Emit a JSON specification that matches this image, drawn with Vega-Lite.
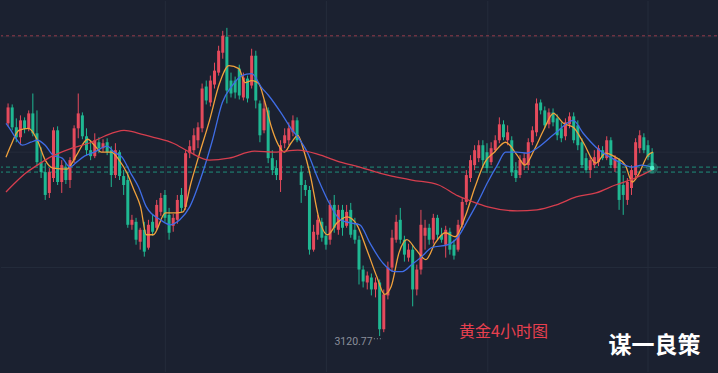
{
  "$schema": "https://vega.github.io/schema/vega-lite/v6.json",
  "width": 718,
  "height": 373,
  "autosize": {"type": "fit", "contains": "padding"},
  "padding": 0,
  "background": "#1b2130",
  "config": {"view": {"stroke": null}},
  "datasets": {
    "candles": [
      {"i":0,"o":3377.4,"c":3396.6,"h":3401.4,"l":3373.8},
      {"i":1,"o":3396.6,"c":3372.6,"h":3400.2,"l":3369},
      {"i":2,"o":3372.6,"c":3360.6,"h":3383.4,"l":3354.6},
      {"i":3,"o":3360.6,"c":3381,"h":3387,"l":3351},
      {"i":4,"o":3381,"c":3371.4,"h":3384.6,"l":3365.4},
      {"i":5,"o":3371.4,"c":3389.4,"h":3393,"l":3367.8},
      {"i":6,"o":3389.4,"c":3365.4,"h":3413.4,"l":3361.8},
      {"i":7,"o":3365.4,"c":3330.6,"h":3393,"l":3327},
      {"i":8,"o":3330.6,"c":3318.6,"h":3348.6,"l":3311.4},
      {"i":9,"o":3318.6,"c":3291,"h":3329.4,"l":3285},
      {"i":10,"o":3293.4,"c":3318.6,"h":3323.4,"l":3287.4},
      {"i":11,"o":3311.4,"c":3369,"h":3372.6,"l":3306.6},
      {"i":12,"o":3369,"c":3306.6,"h":3373.8,"l":3303},
      {"i":13,"o":3306.6,"c":3327,"h":3333,"l":3293.4},
      {"i":14,"o":3324.6,"c":3309,"h":3329.4,"l":3304.2},
      {"i":15,"o":3309,"c":3333,"h":3336.6,"l":3299.4},
      {"i":16,"o":3333,"c":3371.4,"h":3375,"l":3329.4},
      {"i":17,"o":3371.4,"c":3389.4,"h":3413.4,"l":3359.4},
      {"i":18,"o":3387,"c":3361.8,"h":3390.6,"l":3358.2},
      {"i":19,"o":3361.8,"c":3345,"h":3371.4,"l":3339},
      {"i":20,"o":3345,"c":3337.8,"h":3357,"l":3333},
      {"i":21,"o":3337.8,"c":3357,"h":3365.4,"l":3335.4},
      {"i":22,"o":3354.6,"c":3347.4,"h":3360.6,"l":3341.4},
      {"i":23,"o":3347.4,"c":3353.4,"h":3358.2,"l":3342.6},
      {"i":24,"o":3354.6,"c":3342.6,"h":3359.4,"l":3339},
      {"i":25,"o":3345,"c":3315,"h":3349.8,"l":3300.6},
      {"i":26,"o":3315,"c":3345,"h":3353.4,"l":3311.4},
      {"i":27,"o":3342.6,"c":3313.8,"h":3345,"l":3309},
      {"i":28,"o":3313.8,"c":3303,"h":3321,"l":3291},
      {"i":29,"o":3309,"c":3255,"h":3318.6,"l":3251.4},
      {"i":30,"o":3255,"c":3261,"h":3267,"l":3249},
      {"i":31,"o":3258.6,"c":3237,"h":3263.4,"l":3231},
      {"i":32,"o":3234.6,"c":3249,"h":3251.4,"l":3225},
      {"i":33,"o":3249,"c":3222.6,"h":3258.6,"l":3216.6},
      {"i":34,"o":3227.4,"c":3255,"h":3261,"l":3225},
      {"i":35,"o":3258.6,"c":3246.6,"h":3267,"l":3241.8},
      {"i":36,"o":3251.4,"c":3279,"h":3285,"l":3249},
      {"i":37,"o":3270.6,"c":3287.4,"h":3293.4,"l":3265.8},
      {"i":38,"o":3291,"c":3263.4,"h":3297,"l":3258.6},
      {"i":39,"o":3267,"c":3245.4,"h":3275.4,"l":3237},
      {"i":40,"o":3253.8,"c":3263.4,"h":3268.2,"l":3246.6},
      {"i":41,"o":3261,"c":3285,"h":3291,"l":3256.2},
      {"i":42,"o":3291,"c":3275.4,"h":3299.4,"l":3270.6},
      {"i":43,"o":3276.6,"c":3341.4,"h":3345,"l":3273},
      {"i":44,"o":3341.4,"c":3349.8,"h":3357,"l":3335.4},
      {"i":45,"o":3345,"c":3363,"h":3371.4,"l":3339},
      {"i":46,"o":3357,"c":3372.6,"h":3378.6,"l":3347.4},
      {"i":47,"o":3371.4,"c":3419.4,"h":3425.4,"l":3366.6},
      {"i":48,"o":3421.8,"c":3405,"h":3429,"l":3400.2},
      {"i":49,"o":3402.6,"c":3429,"h":3435,"l":3397.8},
      {"i":50,"o":3424.2,"c":3441,"h":3450.6,"l":3419.4},
      {"i":51,"o":3438.6,"c":3465,"h":3471,"l":3435},
      {"i":52,"o":3462.6,"c":3483,"h":3489,"l":3455.4},
      {"i":53,"o":3481.8,"c":3417,"h":3492.6,"l":3401.4},
      {"i":54,"o":3429,"c":3413.4,"h":3438.6,"l":3408.6},
      {"i":55,"o":3429,"c":3414.6,"h":3433.8,"l":3407.4},
      {"i":56,"o":3443.4,"c":3411,"h":3448.2,"l":3406.2},
      {"i":57,"o":3408.6,"c":3432.6,"h":3438.6,"l":3405},
      {"i":58,"o":3431.4,"c":3407.4,"h":3435,"l":3402.6},
      {"i":59,"o":3423,"c":3459,"h":3467.4,"l":3419.4},
      {"i":60,"o":3459,"c":3405,"h":3465,"l":3395.4},
      {"i":61,"o":3401.4,"c":3363,"h":3405,"l":3354.6},
      {"i":62,"o":3369,"c":3395.4,"h":3405,"l":3365.4},
      {"i":63,"o":3393,"c":3335.4,"h":3396.6,"l":3329.4},
      {"i":64,"o":3335.4,"c":3321,"h":3345,"l":3315},
      {"i":65,"o":3323.4,"c":3315,"h":3333,"l":3309},
      {"i":66,"o":3309,"c":3351,"h":3357,"l":3294.6},
      {"i":67,"o":3353.4,"c":3363,"h":3371.4,"l":3347.4},
      {"i":68,"o":3357,"c":3371.4,"h":3378.6,"l":3351},
      {"i":69,"o":3366.6,"c":3381,"h":3387,"l":3361.8},
      {"i":70,"o":3381,"c":3357,"h":3384.6,"l":3354.6},
      {"i":71,"o":3318.6,"c":3303,"h":3327,"l":3281.4},
      {"i":72,"o":3303,"c":3297,"h":3309,"l":3289.8},
      {"i":73,"o":3297,"c":3225,"h":3301.8,"l":3219},
      {"i":74,"o":3225,"c":3246.6,"h":3255,"l":3222.6},
      {"i":75,"o":3243,"c":3261,"h":3267,"l":3237},
      {"i":76,"o":3258.6,"c":3239.4,"h":3263.4,"l":3234.6},
      {"i":77,"o":3241.8,"c":3231,"h":3253.8,"l":3225},
      {"i":78,"o":3237,"c":3279,"h":3285,"l":3231},
      {"i":79,"o":3279,"c":3251.4,"h":3291,"l":3245.4},
      {"i":80,"o":3249,"c":3273,"h":3279,"l":3243},
      {"i":81,"o":3273,"c":3251.4,"h":3279,"l":3241.8},
      {"i":82,"o":3253.8,"c":3270.6,"h":3279,"l":3251.4},
      {"i":83,"o":3273,"c":3243,"h":3281.4,"l":3239.4},
      {"i":84,"o":3249,"c":3237,"h":3263.4,"l":3232.2},
      {"i":85,"o":3237,"c":3201,"h":3241.8,"l":3183},
      {"i":86,"o":3201,"c":3186.6,"h":3205.8,"l":3179.4},
      {"i":87,"o":3185.4,"c":3193.8,"h":3198.6,"l":3177},
      {"i":88,"o":3191.4,"c":3177,"h":3196.2,"l":3169.8},
      {"i":89,"o":3177,"c":3185.4,"h":3191.4,"l":3167.4},
      {"i":90,"o":3185.4,"c":3129,"h":3189,"l":3120.77},
      {"i":91,"o":3129,"c":3171,"h":3177,"l":3125.4},
      {"i":92,"o":3169.8,"c":3203.4,"h":3210.6,"l":3165},
      {"i":93,"o":3203.4,"c":3239.4,"h":3249,"l":3198.6},
      {"i":94,"o":3237,"c":3258.6,"h":3267,"l":3233.4},
      {"i":95,"o":3261,"c":3237,"h":3275.4,"l":3232.2},
      {"i":96,"o":3237,"c":3219,"h":3241.8,"l":3210.6},
      {"i":97,"o":3215.4,"c":3225,"h":3232.2,"l":3210.6},
      {"i":98,"o":3225,"c":3177,"h":3231,"l":3156.6},
      {"i":99,"o":3177,"c":3201,"h":3207,"l":3169.8},
      {"i":100,"o":3201,"c":3255,"h":3273,"l":3195},
      {"i":101,"o":3241.8,"c":3251.4,"h":3261,"l":3225},
      {"i":102,"o":3251.4,"c":3237,"h":3256.2,"l":3231},
      {"i":103,"o":3237,"c":3263.4,"h":3268.2,"l":3232.2},
      {"i":104,"o":3263.4,"c":3243,"h":3267,"l":3237},
      {"i":105,"o":3243,"c":3237,"h":3251.4,"l":3233.4},
      {"i":106,"o":3231,"c":3249,"h":3253.8,"l":3215.4},
      {"i":107,"o":3246.6,"c":3225,"h":3251.4,"l":3219},
      {"i":108,"o":3231,"c":3217.8,"h":3237,"l":3213},
      {"i":109,"o":3225,"c":3255,"h":3261,"l":3222.6},
      {"i":110,"o":3255,"c":3282.6,"h":3287.4,"l":3251.4},
      {"i":111,"o":3282.6,"c":3315,"h":3321,"l":3279},
      {"i":112,"o":3311.4,"c":3333,"h":3339,"l":3306.6},
      {"i":113,"o":3327,"c":3345,"h":3351,"l":3321},
      {"i":114,"o":3335.4,"c":3351,"h":3357,"l":3330.6},
      {"i":115,"o":3351,"c":3333,"h":3357,"l":3323.4},
      {"i":116,"o":3342.6,"c":3323.4,"h":3353.4,"l":3317.4},
      {"i":117,"o":3330.6,"c":3347.4,"h":3354.6,"l":3327},
      {"i":118,"o":3345,"c":3357,"h":3363,"l":3342.6},
      {"i":119,"o":3357,"c":3376.2,"h":3384.6,"l":3353.4},
      {"i":120,"o":3376.2,"c":3360.6,"h":3381,"l":3357},
      {"i":121,"o":3357,"c":3366.6,"h":3375,"l":3351},
      {"i":122,"o":3357,"c":3318.6,"h":3361.8,"l":3313.8},
      {"i":123,"o":3321,"c":3311.4,"h":3330.6,"l":3306.6},
      {"i":124,"o":3315,"c":3333,"h":3339,"l":3311.4},
      {"i":125,"o":3327,"c":3335.4,"h":3341.4,"l":3321},
      {"i":126,"o":3327,"c":3354.6,"h":3359.4,"l":3321},
      {"i":127,"o":3354.6,"c":3369,"h":3373.8,"l":3351},
      {"i":128,"o":3366.6,"c":3401.4,"h":3407.4,"l":3361.8},
      {"i":129,"o":3402.6,"c":3393,"h":3406.2,"l":3388.2},
      {"i":130,"o":3393,"c":3375,"h":3397.8,"l":3371.4},
      {"i":131,"o":3376.2,"c":3390.6,"h":3395.4,"l":3371.4},
      {"i":132,"o":3390.6,"c":3378.6,"h":3395.4,"l":3373.8},
      {"i":133,"o":3383.4,"c":3363,"h":3388.2,"l":3357},
      {"i":134,"o":3371.4,"c":3359.4,"h":3378.6,"l":3354.6},
      {"i":135,"o":3361.8,"c":3378.6,"h":3383.4,"l":3357},
      {"i":136,"o":3376.2,"c":3385.8,"h":3390.6,"l":3371.4},
      {"i":137,"o":3385.8,"c":3357,"h":3390.6,"l":3353.4},
      {"i":138,"o":3375,"c":3351,"h":3381,"l":3345},
      {"i":139,"o":3354.6,"c":3327,"h":3359.4,"l":3323.4},
      {"i":140,"o":3335.4,"c":3321,"h":3341.4,"l":3317.4},
      {"i":141,"o":3321,"c":3333,"h":3337.8,"l":3311.4},
      {"i":142,"o":3327,"c":3336.6,"h":3345,"l":3323.4},
      {"i":143,"o":3330.6,"c":3347.4,"h":3351,"l":3325.8},
      {"i":144,"o":3345,"c":3335.4,"h":3349.8,"l":3333},
      {"i":145,"o":3335.4,"c":3357,"h":3361.8,"l":3333},
      {"i":146,"o":3357,"c":3327,"h":3360.6,"l":3323.4},
      {"i":147,"o":3323.4,"c":3335.4,"h":3339,"l":3318.6},
      {"i":148,"o":3333,"c":3285,"h":3335.4,"l":3273},
      {"i":149,"o":3303,"c":3291,"h":3315,"l":3267},
      {"i":150,"o":3285,"c":3306.6,"h":3311.4,"l":3279},
      {"i":151,"o":3299.4,"c":3321,"h":3327,"l":3291},
      {"i":152,"o":3315,"c":3354.6,"h":3359.4,"l":3309},
      {"i":153,"o":3347.4,"c":3363,"h":3369,"l":3341.4},
      {"i":154,"o":3360.6,"c":3345,"h":3365.4,"l":3341.4},
      {"i":155,"o":3351,"c":3336.6,"h":3357,"l":3333},
      {"i":156,"o":3342.6,"c":3323.4,"h":3347.4,"l":3321}
    ],
    "ma": [
      {"m":"MA5","i":-0.5,"p":3336.6},{"m":"MA5","i":0.7,"p":3351},{"m":"MA5","i":2.6,"p":3369},{"m":"MA5","i":5.0,"p":3371.4},
      {"m":"MA5","i":7.1,"p":3357},{"m":"MA5","i":9.0,"p":3333},{"m":"MA5","i":10.9,"p":3323.4},{"m":"MA5","i":14.3,"p":3322.2},
      {"m":"MA5","i":15.0,"p":3325.8},{"m":"MA5","i":16.6,"p":3339},{"m":"MA5","i":19.3,"p":3358.2},{"m":"MA5","i":20.9,"p":3351},
      {"m":"MA5","i":22.6,"p":3342.6},{"m":"MA5","i":25.0,"p":3342.6},{"m":"MA5","i":26.9,"p":3333},{"m":"MA5","i":28.8,"p":3317.4},
      {"m":"MA5","i":30.5,"p":3297},{"m":"MA5","i":32.1,"p":3276.6},{"m":"MA5","i":33.5,"p":3243},{"m":"MA5","i":35.2,"p":3243},
      {"m":"MA5","i":38.1,"p":3269.4},{"m":"MA5","i":40.7,"p":3269.4},{"m":"MA5","i":42.4,"p":3270.6},{"m":"MA5","i":44.3,"p":3305.4},
      {"m":"MA5","i":46.4,"p":3341.4},{"m":"MA5","i":48.8,"p":3381},{"m":"MA5","i":51.2,"p":3425.4},{"m":"MA5","i":53.5,"p":3447},
      {"m":"MA5","i":55.9,"p":3443.4},{"m":"MA5","i":57.4,"p":3426.6},{"m":"MA5","i":59.0,"p":3429},{"m":"MA5","i":60.7,"p":3425.4},
      {"m":"MA5","i":62.1,"p":3405},{"m":"MA5","i":63.8,"p":3372.6},{"m":"MA5","i":65.5,"p":3351},{"m":"MA5","i":66.9,"p":3342.6},
      {"m":"MA5","i":68.5,"p":3353.4},{"m":"MA5","i":70.2,"p":3363},{"m":"MA5","i":71.6,"p":3345},{"m":"MA5","i":73.3,"p":3312.6},
      {"m":"MA5","i":75.2,"p":3264.6},{"m":"MA5","i":77.4,"p":3243},{"m":"MA5","i":79.7,"p":3257.4},{"m":"MA5","i":82.1,"p":3264.6},
      {"m":"MA5","i":84.5,"p":3255},{"m":"MA5","i":86.9,"p":3225},{"m":"MA5","i":89.3,"p":3192.6},{"m":"MA5","i":91.2,"p":3171},
      {"m":"MA5","i":92.8,"p":3180.6},{"m":"MA5","i":94.7,"p":3221.4},{"m":"MA5","i":96.6,"p":3237},{"m":"MA5","i":98.8,"p":3225},
      {"m":"MA5","i":101.2,"p":3213},{"m":"MA5","i":103.5,"p":3233.4},{"m":"MA5","i":105.9,"p":3245.4},{"m":"MA5","i":108.3,"p":3240.6},
      {"m":"MA5","i":110.7,"p":3264.6},{"m":"MA5","i":113.1,"p":3300.6},{"m":"MA5","i":115.5,"p":3330.6},{"m":"MA5","i":117.8,"p":3342.6},
      {"m":"MA5","i":120.5,"p":3354.6},{"m":"MA5","i":123.3,"p":3339},{"m":"MA5","i":125.2,"p":3327},{"m":"MA5","i":127.4,"p":3345},
      {"m":"MA5","i":129.7,"p":3369},{"m":"MA5","i":132.1,"p":3389.4},{"m":"MA5","i":134.5,"p":3377.4},{"m":"MA5","i":136.9,"p":3372.6},
      {"m":"MA5","i":139.3,"p":3354.6},{"m":"MA5","i":142.4,"p":3329.4},{"m":"MA5","i":144.7,"p":3341.4},{"m":"MA5","i":147.1,"p":3336.6},
      {"m":"MA5","i":149.5,"p":3327},{"m":"MA5","i":151.2,"p":3306.6},{"m":"MA5","i":152.6,"p":3315},{"m":"MA5","i":155.0,"p":3339},
      {"m":"MA5","i":156.2,"p":3342.6},
      {"m":"MA20","i":-0.5,"p":3377.4},{"m":"MA20","i":0.7,"p":3369},{"m":"MA20","i":1.9,"p":3359.4},{"m":"MA20","i":3.5,"p":3351},
      {"m":"MA20","i":5.5,"p":3354.6},{"m":"MA20","i":7.1,"p":3357},{"m":"MA20","i":9.0,"p":3351},{"m":"MA20","i":10.9,"p":3339},
      {"m":"MA20","i":13.1,"p":3335.4},{"m":"MA20","i":15.0,"p":3324.6},{"m":"MA20","i":16.6,"p":3330.6},{"m":"MA20","i":18.5,"p":3337.8},
      {"m":"MA20","i":20.9,"p":3342.6},{"m":"MA20","i":24.0,"p":3349.8},{"m":"MA20","i":25.7,"p":3342.6},{"m":"MA20","i":27.6,"p":3336.6},
      {"m":"MA20","i":29.7,"p":3317.4},{"m":"MA20","i":31.6,"p":3300.6},{"m":"MA20","i":33.5,"p":3276.6},{"m":"MA20","i":36.9,"p":3261},
      {"m":"MA20","i":39.3,"p":3255},{"m":"MA20","i":41.6,"p":3261},{"m":"MA20","i":44.0,"p":3276.6},{"m":"MA20","i":47.1,"p":3317.4},
      {"m":"MA20","i":49.5,"p":3357},{"m":"MA20","i":51.9,"p":3402.6},{"m":"MA20","i":54.3,"p":3423},{"m":"MA20","i":56.6,"p":3435},
      {"m":"MA20","i":59.0,"p":3437.4},{"m":"MA20","i":61.4,"p":3420.6},{"m":"MA20","i":63.1,"p":3411},{"m":"MA20","i":66.2,"p":3389.4},
      {"m":"MA20","i":68.5,"p":3371.4},{"m":"MA20","i":70.2,"p":3360.6},{"m":"MA20","i":72.6,"p":3341.4},{"m":"MA20","i":75.0,"p":3311.4},
      {"m":"MA20","i":77.4,"p":3285},{"m":"MA20","i":80.5,"p":3261},{"m":"MA20","i":82.8,"p":3257.4},{"m":"MA20","i":85.2,"p":3255},
      {"m":"MA20","i":87.6,"p":3233.4},{"m":"MA20","i":90.7,"p":3209.4},{"m":"MA20","i":93.5,"p":3198.6},{"m":"MA20","i":95.5,"p":3198.6},
      {"m":"MA20","i":97.8,"p":3207},{"m":"MA20","i":100.2,"p":3216.6},{"m":"MA20","i":102.6,"p":3227.4},{"m":"MA20","i":106.6,"p":3231},
      {"m":"MA20","i":109.0,"p":3240.6},{"m":"MA20","i":111.4,"p":3261},{"m":"MA20","i":113.8,"p":3282.6},{"m":"MA20","i":116.2,"p":3306.6},
      {"m":"MA20","i":118.5,"p":3327},{"m":"MA20","i":120.5,"p":3342.6},{"m":"MA20","i":123.3,"p":3342.6},{"m":"MA20","i":125.7,"p":3341.4},
      {"m":"MA20","i":128.1,"p":3347.4},{"m":"MA20","i":132.8,"p":3366.6},{"m":"MA20","i":136.9,"p":3381},{"m":"MA20","i":139.3,"p":3365.4},
      {"m":"MA20","i":142.4,"p":3348.6},{"m":"MA20","i":147.1,"p":3333},{"m":"MA20","i":151.2,"p":3324.6},{"m":"MA20","i":153.5,"p":3327},
      {"m":"MA20","i":155.9,"p":3324.6},
      {"m":"MA200","i":-0.5,"p":3294.6},{"m":"MA200","i":1.9,"p":3306.6},{"m":"MA200","i":4.3,"p":3317.4},{"m":"MA200","i":7.1,"p":3327},
      {"m":"MA200","i":10.7,"p":3337.8},{"m":"MA200","i":15.5,"p":3347.4},{"m":"MA200","i":20.2,"p":3354.6},{"m":"MA200","i":23.3,"p":3361.8},
      {"m":"MA200","i":28.1,"p":3369},{"m":"MA200","i":31.6,"p":3365.4},{"m":"MA200","i":35.2,"p":3360.6},{"m":"MA200","i":40.0,"p":3353.4},
      {"m":"MA200","i":44.0,"p":3342.6},{"m":"MA200","i":48.8,"p":3333},{"m":"MA200","i":53.5,"p":3335.4},{"m":"MA200","i":59.7,"p":3343.8},
      {"m":"MA200","i":64.5,"p":3342.6},{"m":"MA200","i":70.2,"p":3345},{"m":"MA200","i":75.7,"p":3339},{"m":"MA200","i":80.5,"p":3330.6},
      {"m":"MA200","i":85.2,"p":3324.6},{"m":"MA200","i":90.0,"p":3317.4},{"m":"MA200","i":97.8,"p":3309},{"m":"MA200","i":104.3,"p":3303},
      {"m":"MA200","i":109.0,"p":3289.8},{"m":"MA200","i":112.6,"p":3282.6},{"m":"MA200","i":116.2,"p":3276.6},{"m":"MA200","i":123.3,"p":3271.8},
      {"m":"MA200","i":128.1,"p":3273},{"m":"MA200","i":132.8,"p":3279},{"m":"MA200","i":137.6,"p":3288.6},{"m":"MA200","i":142.4,"p":3293.4},
      {"m":"MA200","i":147.1,"p":3303},{"m":"MA200","i":151.9,"p":3311.4},{"m":"MA200","i":155.9,"p":3321}
    ]
  },
  "layer": [
    {
      "data": {"values": [{"i": 38.1}, {"i": 77.1}, {"i": 116.2}, {"i": 155.0}]},
      "mark": {"type": "rule", "color": "#252c3b", "strokeWidth": 1},
      "encoding": {
        "x": {"field": "i", "type": "quantitative", "scale": {"domain": [-0.5, 170.5], "nice": false, "zero": false}, "axis": null}
      }
    },
    {
      "data": {"values": [{"p": 3481.8}, {"p": 3342.6}, {"p": 3203.4}]},
      "mark": {"type": "rule", "color": "#252c3b", "strokeWidth": 1},
      "encoding": {
        "y": {"field": "p", "type": "quantitative", "scale": {"domain": [3077.4, 3525], "nice": false, "zero": false}, "axis": null}
      }
    },
    {
      "data": {"values": [{"p": 3483}]},
      "mark": {"type": "rule", "color": "#a8404d", "strokeWidth": 1, "strokeDash": [3, 3], "opacity": 0.85},
      "encoding": {
        "y": {"field": "p", "type": "quantitative", "scale": {"domain": [3077.4, 3525], "nice": false, "zero": false}, "axis": null}
      }
    },
    {
      "data": {"values": [{"p": 3324.6}, {"p": 3318.6}]},
      "mark": {"type": "rule", "color": "#1f9a82", "strokeWidth": 1, "strokeDash": [4, 3], "opacity": 0.9},
      "encoding": {
        "y": {"field": "p", "type": "quantitative", "scale": {"domain": [3077.4, 3525], "nice": false, "zero": false}, "axis": null}
      }
    },
    {
      "data": {"name": "candles"},
      "mark": {"type": "rule", "strokeWidth": 1},
      "encoding": {
        "x": {"field": "i", "type": "quantitative", "scale": {"domain": [-0.5, 170.5], "nice": false, "zero": false}, "axis": null},
        "y": {"field": "l", "type": "quantitative", "scale": {"domain": [3077.4, 3525], "nice": false, "zero": false}, "axis": null},
        "y2": {"field": "h"},
        "color": {"condition": {"test": "datum.c >= datum.o", "value": "#e54a5c"}, "value": "#1fb892"}
      }
    },
    {
      "data": {"name": "candles"},
      "mark": {"type": "bar", "width": 3},
      "encoding": {
        "x": {"field": "i", "type": "quantitative", "scale": {"domain": [-0.5, 170.5], "nice": false, "zero": false}, "axis": null},
        "y": {"field": "o", "type": "quantitative", "scale": {"domain": [3077.4, 3525], "nice": false, "zero": false}, "axis": null},
        "y2": {"field": "c"},
        "color": {"condition": {"test": "datum.c >= datum.o", "value": "#e54a5c"}, "value": "#1fb892"}
      }
    },
    {
      "data": {"name": "ma"},
      "mark": {"type": "line", "strokeWidth": 1.3, "interpolate": "monotone"},
      "encoding": {
        "x": {"field": "i", "type": "quantitative", "scale": {"domain": [-0.5, 170.5], "nice": false, "zero": false}, "axis": null},
        "y": {"field": "p", "type": "quantitative", "scale": {"domain": [3077.4, 3525], "nice": false, "zero": false}, "axis": null},
        "color": {"field": "m", "type": "nominal", "scale": {"domain": ["MA5", "MA20", "MA200"], "range": ["#f0a13c", "#3f6de6", "#d63e4e"]}, "legend": null},
        "order": {"field": "i", "type": "quantitative"}
      }
    },
    {
      "data": {"values": [{"i": 156, "p": 3323.4}]},
      "mark": {"type": "point", "filled": true, "size": 140, "opacity": 0.3, "color": "#2fe0b4"},
      "encoding": {
        "x": {"field": "i", "type": "quantitative", "scale": {"domain": [-0.5, 170.5], "nice": false, "zero": false}, "axis": null},
        "y": {"field": "p", "type": "quantitative", "scale": {"domain": [3077.4, 3525], "nice": false, "zero": false}, "axis": null}
      }
    },
    {
      "data": {"values": [{"i": 156, "p": 3323.4}]},
      "mark": {"type": "point", "filled": true, "size": 22, "opacity": 1, "color": "#4ff0c8"},
      "encoding": {
        "x": {"field": "i", "type": "quantitative", "scale": {"domain": [-0.5, 170.5], "nice": false, "zero": false}, "axis": null},
        "y": {"field": "p", "type": "quantitative", "scale": {"domain": [3077.4, 3525], "nice": false, "zero": false}, "axis": null}
      }
    },
    {
      "data": {"values": [{"i": 88.6, "i2": 90.8, "p": 3117.5}]},
      "mark": {"type": "rule", "color": "#8b909b", "strokeWidth": 1, "strokeDash": [1, 2]},
      "encoding": {
        "x": {"field": "i", "type": "quantitative", "scale": {"domain": [-0.5, 170.5], "nice": false, "zero": false}, "axis": null},
        "x2": {"field": "i2"},
        "y": {"field": "p", "type": "quantitative", "scale": {"domain": [3077.4, 3525], "nice": false, "zero": false}, "axis": null}
      }
    },
    {
      "data": {"values": [{"i": 88.3, "p": 3120.77, "t": "3120.77"}]},
      "mark": {"type": "text", "align": "right", "baseline": "middle", "dy": 6, "fontSize": 10.5, "font": "Roboto", "color": "#8b909b"},
      "encoding": {
        "x": {"field": "i", "type": "quantitative", "scale": {"domain": [-0.5, 170.5], "nice": false, "zero": false}, "axis": null},
        "y": {"field": "p", "type": "quantitative", "scale": {"domain": [3077.4, 3525], "nice": false, "zero": false}, "axis": null},
        "text": {"field": "t"}
      }
    },
    {
      "data": {"values": [{"i": 120, "p": 3125.4, "t": "黄金4小时图"}]},
      "mark": {"type": "text", "align": "center", "baseline": "middle", "fontSize": 16, "font": "Noto Sans CJK SC", "color": "#e8404f"},
      "encoding": {
        "x": {"field": "i", "type": "quantitative", "scale": {"domain": [-0.5, 170.5], "nice": false, "zero": false}, "axis": null},
        "y": {"field": "p", "type": "quantitative", "scale": {"domain": [3077.4, 3525], "nice": false, "zero": false}, "axis": null},
        "text": {"field": "t"}
      }
    },
    {
      "data": {"values": [{"i": 156.6, "p": 3108.6, "t": "谋一良策"}]},
      "mark": {"type": "text", "align": "center", "baseline": "middle", "fontSize": 23, "fontWeight": "bold", "font": "Noto Sans CJK SC", "color": "#ffffff"},
      "encoding": {
        "x": {"field": "i", "type": "quantitative", "scale": {"domain": [-0.5, 170.5], "nice": false, "zero": false}, "axis": null},
        "y": {"field": "p", "type": "quantitative", "scale": {"domain": [3077.4, 3525], "nice": false, "zero": false}, "axis": null},
        "text": {"field": "t"}
      }
    }
  ]
}
